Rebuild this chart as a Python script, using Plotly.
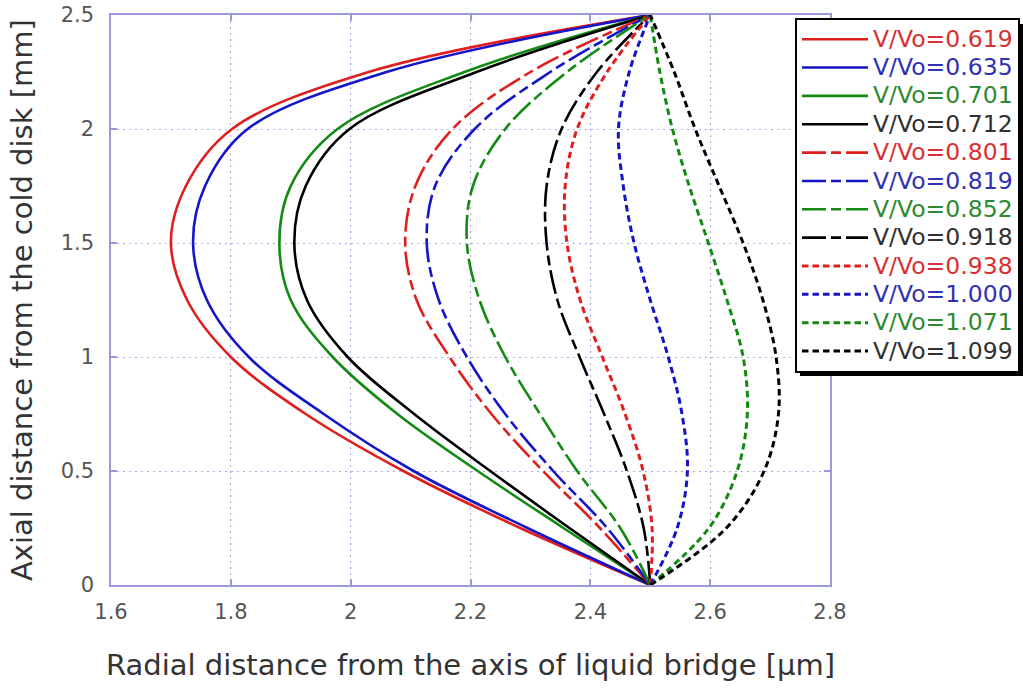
import plotly.graph_objects as go

# Axial positions (mm) at which the radial distance of each profile was read
axial_mm = [0, 0.25, 0.5, 0.75, 1.0, 1.25, 1.5, 1.75, 2.0, 2.25, 2.5]

labels = ["V/Vo=0.619", "V/Vo=0.635", "V/Vo=0.701", "V/Vo=0.712",
          "V/Vo=0.801", "V/Vo=0.819", "V/Vo=0.852", "V/Vo=0.918",
          "V/Vo=0.938", "V/Vo=1.000", "V/Vo=1.071", "V/Vo=1.099"]

r_0619 = [2.5, 2.283, 2.088, 1.925, 1.80, 1.727, 1.70, 1.725, 1.802, 2.03, 2.5]
r_0635 = [2.5, 2.295, 2.105, 1.955, 1.83, 1.76, 1.737, 1.757, 1.828, 2.06, 2.5]
r_0701 = [2.5, 2.355, 2.212, 2.078, 1.97, 1.90, 1.881, 1.90, 1.978, 2.19, 2.5]
r_0712 = [2.5, 2.365, 2.233, 2.106, 1.995, 1.927, 1.906, 1.925, 1.998, 2.21, 2.5]
r_0801 = [2.5, 2.416, 2.321, 2.235, 2.165, 2.11, 2.091, 2.108, 2.17, 2.30, 2.5]
r_0819 = [2.5, 2.428, 2.338, 2.258, 2.194, 2.147, 2.127, 2.141, 2.207, 2.333, 2.5]
r_0852 = [2.5, 2.45, 2.378, 2.316, 2.258, 2.215, 2.194, 2.204, 2.258, 2.361, 2.5]
r_0918 = [2.5, 2.489, 2.461, 2.423, 2.382, 2.345, 2.327, 2.327, 2.352, 2.411, 2.5]
r_0938 = [2.5, 2.503, 2.488, 2.458, 2.42, 2.383, 2.361, 2.358, 2.378, 2.428, 2.5]
r_1000 = [2.5, 2.545, 2.562, 2.553, 2.53, 2.50, 2.473, 2.455, 2.447, 2.465, 2.5]
r_1071 = [2.5, 2.598, 2.645, 2.662, 2.655, 2.628, 2.597, 2.565, 2.537, 2.516, 2.5]
r_1099 = [2.5, 2.627, 2.69, 2.714, 2.71, 2.688, 2.655, 2.615, 2.575, 2.54, 2.5]

x_ticks = [1.6, 1.8, 2.0, 2.2, 2.4, 2.6, 2.8]
y_ticks = [0, 0.5, 1, 1.5, 2, 2.5]

series = [r_0619, r_0635, r_0701, r_0712, r_0801, r_0819, r_0852, r_0918,
          r_0938, r_1000, r_1071, r_1099]

line_colors = ["#e01e1e", "#1414c8", "#138a13", "#000000"] * 3
text_colors = ["#d83030", "#3030b4", "#2f8a2f", "#303030"] * 3
dashes = ["solid"] * 4 + ["24px,5px,10px,5px"] * 4 + ["6.5px,4px"] * 4
widths = [2.6] * 4 + [2.6] * 4 + [3.0] * 4

fig = go.Figure()
for vals, lab, lc, tc, dsh, w in zip(series, labels, line_colors, text_colors, dashes, widths):
    fig.add_trace(go.Scatter(
        x=vals, y=axial_mm, mode="lines",
        line=dict(color=lc, width=w, dash=dsh, shape="spline", smoothing=1.0),
        name=f"<span style='color:{tc};font-size:23.5px'>{lab}</span>",
    ))

axis_col = "#9a9ad8"
grid_col = "#a9abe4"
font_fam = "DejaVu Sans"

common = dict(showgrid=True, gridcolor=grid_col, griddash="2px,4px", gridwidth=1,
              showline=True, linecolor=axis_col, linewidth=1.5, mirror="ticks",
              ticks="inside", ticklen=6, tickcolor=axis_col, tickwidth=1.5,
              tickfont=dict(family=font_fam, size=21, color="#555555"),
              zeroline=False)
fig.update_xaxes(range=[1.6, 2.8], tickvals=x_ticks, ticktext=[f"{v:g}" for v in x_ticks],
                 ticklabelstandoff=7, **common)
fig.update_yaxes(range=[0, 2.5], tickvals=y_ticks, ticktext=[f"{v:g}" for v in y_ticks],
                 ticklabelstandoff=11, **common)

L, R, T, B = 111, 193, 15, 103
W, H = 1023, 688
pw, ph = W - L - R, H - T - B


def px_x(p):
    return (p - L) / pw


def px_y(p):
    return (H - B - p) / ph


fig.add_annotation(text="Radial distance from the axis of liquid bridge [\u03bcm]",
                   xref="paper", yref="paper", x=0.5, y=0, yshift=-80,
                   showarrow=False, xanchor="center", yanchor="middle",
                   font=dict(family=font_fam, size=29, color="#333333"))
fig.add_annotation(text="Axial distance from the cold disk [mm]",
                   xref="paper", yref="paper", x=0, y=0.5, xshift=-89,
                   showarrow=False, xanchor="center", yanchor="middle", textangle=-90,
                   font=dict(family=font_fam, size=29, color="#333333"))

# legend drop shadow
fig.add_shape(type="rect", xref="paper", yref="paper",
              x0=px_x(800), x1=px_x(1030), y0=px_y(376), y1=px_y(24),
              fillcolor="#000000", line=dict(width=0), layer="above")

fig.update_layout(
    width=W, height=H,
    margin=dict(l=L, r=R, t=T, b=B, autoexpand=False),
    paper_bgcolor="white", plot_bgcolor="white",
    showlegend=True,
    legend=dict(x=px_x(795), y=px_y(18), xanchor="left", yanchor="top",
                bgcolor="white", bordercolor="#000000", borderwidth=2,
                font=dict(family=font_fam, size=19.5, color="#303030"),
                itemwidth=66, traceorder="normal"),
)

fig.write_html("out.html")
